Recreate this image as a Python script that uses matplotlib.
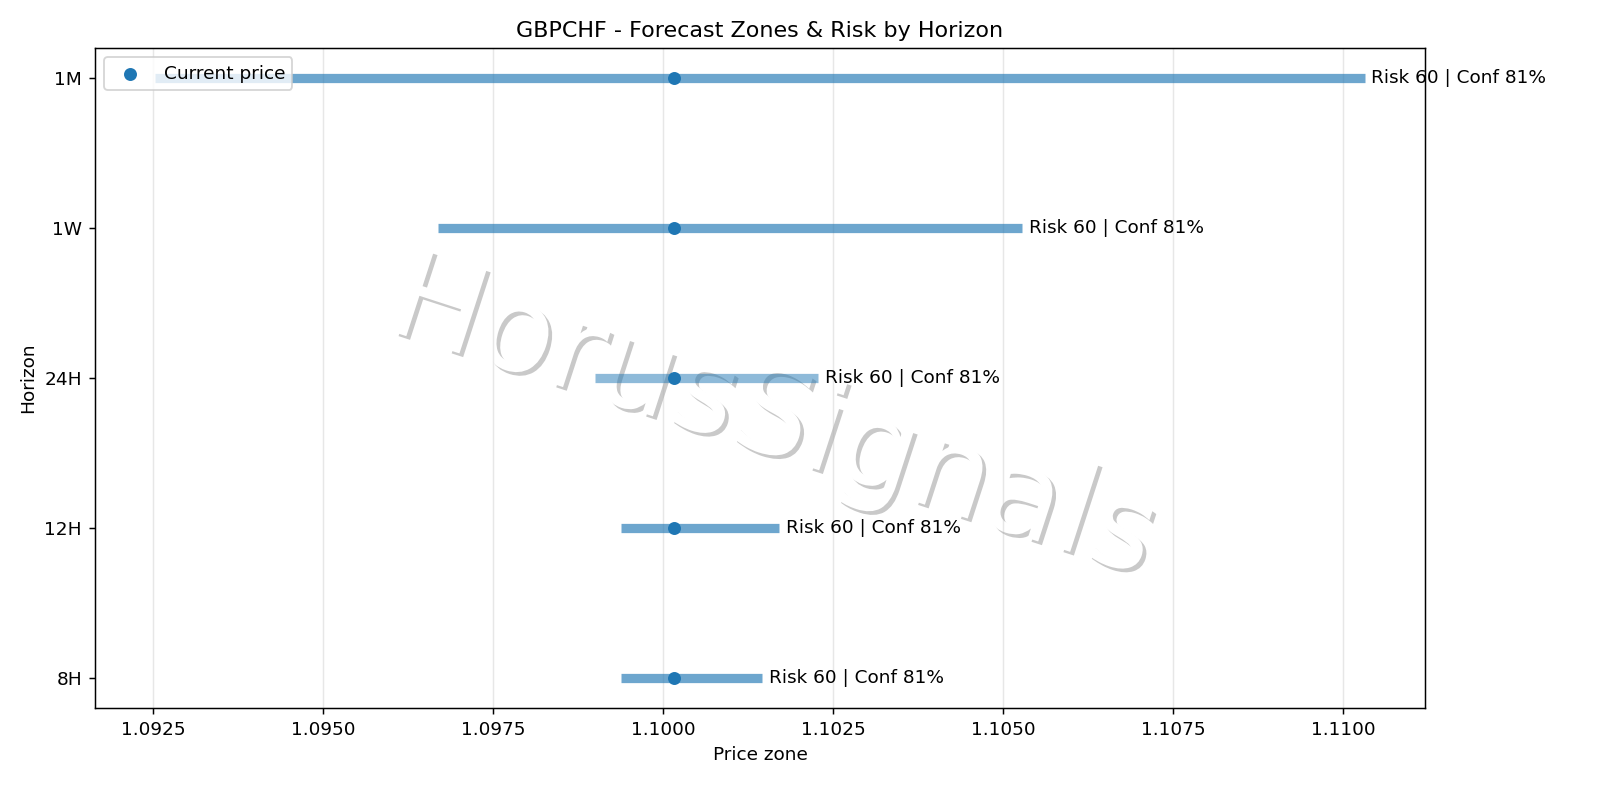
import matplotlib
matplotlib.use("Agg")
import matplotlib.pyplot as plt
import matplotlib.patheffects as pe

horizons = ["8H", "12H", "24H", "1W", "1M"]
zone_low = [1.09937, 1.09937, 1.09900, 1.09668, 1.09253]
zone_high = [1.10145, 1.10170, 1.10228, 1.10528, 1.11031]
current_price = 1.10015
risk = [60, 60, 60, 60, 60]
conf = [81, 81, 81, 81, 81]

DPI = 400 / 3
fig = plt.figure(figsize=(12, 6), dpi=DPI)
ax = fig.add_axes([0.0594, 0.115, 0.8312, 0.825])

ypos = list(range(len(horizons)))
for i, h in enumerate(horizons):
    a = 0.5 if h == "24H" else 0.65
    ax.plot([zone_low[i], zone_high[i]], [i, i], color="C0", lw=5, alpha=a,
            solid_capstyle="butt", zorder=2)
    ax.text(zone_high[i] + 0.0001, i, f"Risk {risk[i]} | Conf {conf[i]}%",
            va="center", ha="left", fontsize=10)
ax.scatter([current_price] * len(horizons), ypos, color="C0", zorder=3,
           label="Current price")

ax.set_yticks(ypos)
ax.set_yticklabels(horizons)
ax.set_xlabel("Price zone")
ax.set_ylabel("Horizon")
ax.set_title("GBPCHF - Forecast Zones & Risk by Horizon")
ax.grid(axis="x", alpha=0.3)
ax.legend(loc="upper left")

ax.text(0.483, 0.475, "HorusSignals", transform=fig.transFigure,
        fontsize=66, color="white", rotation=-18, ha="center", va="center",
        zorder=1, path_effects=[pe.withSimplePatchShadow()])

fig.savefig("out.png", dpi=DPI)
